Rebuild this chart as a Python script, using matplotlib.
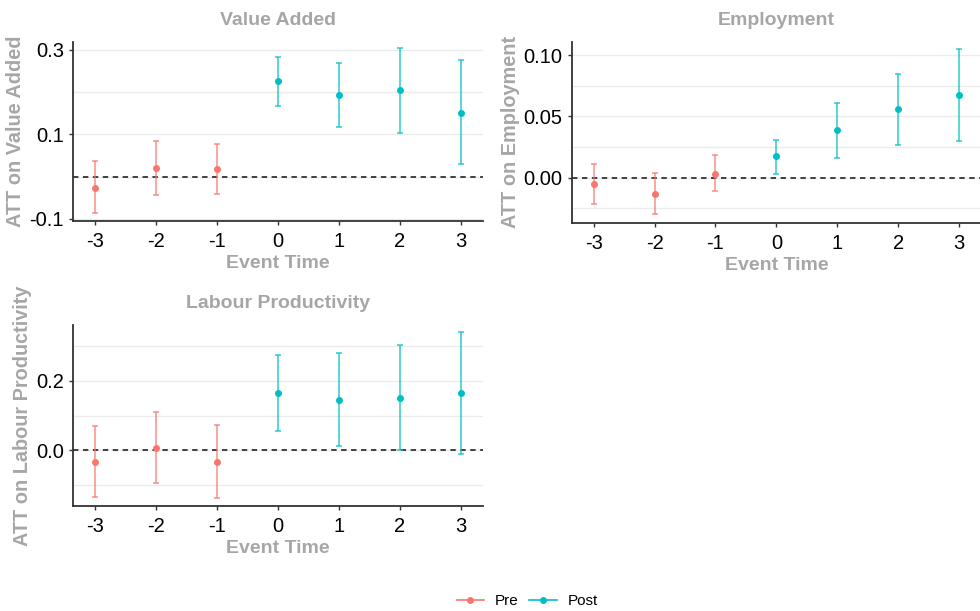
import numpy as np
import matplotlib
matplotlib.use("Agg")
import matplotlib.pyplot as plt
from matplotlib.lines import Line2D

plt.rcParams['font.family'] = ['Liberation Sans', 'DejaVu Sans']

event_time = [-3, -2, -1, 0, 1, 2, 3]

# Value Added
va_est = [-0.026, 0.020, 0.018, 0.227, 0.193, 0.205, 0.150]
va_lo = [-0.087, -0.043, -0.040, 0.168, 0.117, 0.104, 0.029]
va_hi = [0.038, 0.084, 0.078, 0.283, 0.270, 0.304, 0.276]

# Employment
emp_est = [-0.0054, -0.013, 0.0033, 0.0174, 0.039, 0.0557, 0.0674]
emp_lo = [-0.0214, -0.0296, -0.011, 0.0033, 0.016, 0.0267, 0.0297]
emp_hi = [0.011, 0.004, 0.0185, 0.031, 0.061, 0.085, 0.105]

# Labour Productivity
lp_est = [-0.033, 0.008, -0.033, 0.164, 0.144, 0.151, 0.166]
lp_lo = [-0.133, -0.095, -0.136, 0.055, 0.013, 0.001, -0.010]
lp_hi = [0.070, 0.109, 0.072, 0.273, 0.280, 0.302, 0.341]

PRE = "#F8766D"
POST = "#00BFC4"
GREY = "#A6A6A6"

panels = [
    dict(title="Value Added", est=va_est, lo=va_lo, hi=va_hi,
         pos=[0.0745, 0.6383, 0.4184, 0.293], ylim=(-0.105, 0.319),
         major=[-0.1, 0.1, 0.3], minor=[0.0, 0.2], fmt="{:.1f}"),
    dict(title="Employment", est=emp_est, lo=emp_lo, hi=emp_hi,
         pos=[0.5834, 0.6355, 0.4176, 0.2963], ylim=(-0.0367, 0.111),
         major=[0.0, 0.05, 0.10], minor=[-0.025, 0.025, 0.075], fmt="{:.2f}"),
    dict(title="Labour Productivity", est=lp_est, lo=lp_lo, hi=lp_hi,
         pos=[0.0748, 0.1718, 0.4178, 0.2963], ylim=(-0.16, 0.36),
         major=[0.0, 0.2], minor=[-0.1, 0.1, 0.3], fmt="{:.1f}"),
]

fig = plt.figure(figsize=(9.8, 6.11), dpi=100)

for p in panels:
    ax = fig.add_axes(p["pos"])
    for g in p["major"] + p["minor"]:
        ax.axhline(g, color="#EBEBEB", lw=1.0, zorder=0)
    ax.axhline(0, color="#333333", lw=1.3, ls=(0, (3, 2.5)), zorder=1)

    for i, t in enumerate(event_time):
        c = PRE if t < 0 else POST
        est = p["est"][i]
        ax.errorbar(t, est, yerr=[[est - p["lo"][i]], [p["hi"][i] - est]],
                    fmt="none", ecolor=c, elinewidth=1.2, capsize=2.3,
                    capthick=1.2, alpha=0.75, zorder=2)
        ax.plot(t, est, "o", color=c, ms=4, zorder=3)

    ax.set_xlim(-3.36, 3.36)
    ax.set_ylim(*p["ylim"])
    ax.set_xticks(event_time)
    ax.set_xticklabels([str(t) for t in event_time])
    ax.set_yticks(p["major"])
    ax.set_yticklabels([p["fmt"].format(v) for v in p["major"]])
    ax.tick_params(labelsize=14.5, colors="#333333", labelcolor="black",
                   length=3, width=1)
    ax.tick_params(axis="x", pad=5)
    for s in ["top", "right"]:
        ax.spines[s].set_visible(False)
    for s in ["left", "bottom"]:
        ax.spines[s].set_color("#333333")
        ax.spines[s].set_linewidth(1.3)
    ax.set_title(p["title"], color=GREY, fontsize=14, fontweight="bold", pad=12)
    ax.set_xlabel("Event Time", color=GREY, fontsize=14, fontweight="bold", labelpad=3)
    ax.set_ylabel("ATT on " + p["title"], color=GREY, fontsize=14.3,
                  fontweight="bold", labelpad=3)

handles = [Line2D([], [], color=PRE, marker="o", ms=4, lw=1.2),
           Line2D([], [], color=POST, marker="o", ms=4, lw=1.2)]
fig.legend(handles, ["Pre", "Post"], loc="center", bbox_to_anchor=(0.538, 0.016),
           ncol=2, frameon=False, fontsize=11, handlelength=1.8,
           columnspacing=0.7, handletextpad=0.7)

fig.savefig("out.png", dpi=100)
